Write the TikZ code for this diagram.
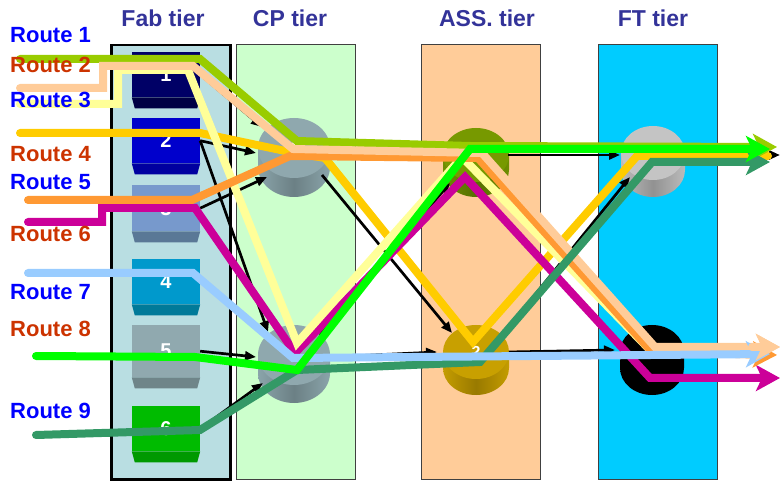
\documentclass[tikz,border=0pt]{standalone}
\usepackage{fontspec}
\setmainfont{Liberation Sans}
\usetikzlibrary{arrows.meta,calc}

% tier and label colours
\definecolor{titleblue}{HTML}{333399}
\definecolor{lblblue}{HTML}{0000FF}
\definecolor{lblred}{HTML}{CC3300}
\definecolor{fabfill}{HTML}{B9DEE2}
\definecolor{cpfill}{HTML}{CCFFCC}
\definecolor{assfill}{HTML}{FFCC99}
\definecolor{ftfill}{HTML}{00CCFF}
% route colours
\definecolor{rA}{HTML}{99CC00}
\definecolor{rB}{HTML}{FFCC99}
\definecolor{rC}{HTML}{FFFF99}
\definecolor{rD}{HTML}{FFCC00}
\definecolor{rE}{HTML}{FF9933}
\definecolor{rF}{HTML}{CC0099}
\definecolor{rG}{HTML}{99CCFF}
\definecolor{rH}{HTML}{00FF00}
\definecolor{rI}{HTML}{339966}
% fab machine colours (face / base)
\definecolor{mfA}{HTML}{000066}\definecolor{mbA}{HTML}{000044}
\definecolor{mfB}{HTML}{0000CC}\definecolor{mbB}{HTML}{0000A0}
\definecolor{mfC}{HTML}{7799CC}\definecolor{mbC}{HTML}{5A7896}
\definecolor{mfD}{HTML}{0099CC}\definecolor{mbD}{HTML}{007A99}
\definecolor{mfE}{HTML}{90A9AF}\definecolor{mbE}{HTML}{6F8589}
\definecolor{mfF}{HTML}{00BB00}\definecolor{mbF}{HTML}{009900}
% cylinder colours
\definecolor{cpcyl}{HTML}{8FA8AE}
\definecolor{cpside}{HTML}{8AA4AA}
\definecolor{asscylA}{HTML}{779900}
\definecolor{asssideA}{HTML}{6E8E00}
\definecolor{asscylB}{HTML}{C8A000}
\definecolor{asssideB}{HTML}{C49C00}
\definecolor{ftcylA}{HTML}{C4C4C4}
\definecolor{ftsideA}{HTML}{BBBBBB}

\tikzset{
  tierbox/.style={draw=black!75, line width=0.8pt, inner sep=0pt,
    minimum width=119pt, minimum height=435pt, anchor=north west},
  tiertitle/.style={font=\bfseries\fontsize{23}{23}\selectfont, text=titleblue,
    anchor=base, inner sep=0pt},
  lbl/.style={font=\bfseries\fontsize{22}{22}\selectfont, anchor=base west, inner sep=0pt},
  fabm/.style={inner sep=0pt, minimum width=68pt, anchor=north, text=white,
    font=\bfseries\fontsize{20}{20}\selectfont},
  cyllbl/.style={inner sep=0pt, text=white, font=\bfseries\fontsize{16}{16}\selectfont},
  route/.style={line width=8pt, line join=miter, line cap=round},
  tipR/.style={-{Stealth[length=24pt,width=26pt,inset=6pt]}},
  flow/.style={line width=2.7pt, -{Triangle[length=11pt,width=9pt]}},
}

% fab machine: name, top y, face height, face colour, base colour, number
\newcommand\fabunit[6]{%
  \node[fabm, fill=#4, minimum height=#3pt] (#1) at (166,#2) {#6};
  \fill[#5] (#1.south west) -- (#1.south east) -- ++(-3,11)
            -- ($(#1.south west)+(3,11)$) -- cycle;
}

% tier cylinder: name, cx, cy, rx, ry, height, top colour, side colour, number
\newcommand\tiercyl[9]{%
  \shade[left color=#8, right color=#8, middle color=#8!78!black]
    ({#2-#4},#3) -- ({#2-#4},{#3+#6})
    arc[start angle=180, end angle=360, x radius=#4pt, y radius=#5pt]
    -- ({#2+#4},#3) -- cycle;
  \fill[#7] (#2,#3) ellipse[x radius=#4pt, y radius=#5pt];
  \node[cyllbl] (#1) at (#2,#3) {#9};
}

\begin{document}
\begin{tikzpicture}[x=1pt, y=-1pt]
\useasboundingbox (0,0) rectangle (780,481);

% tiers
\node[tierbox, fill=fabfill, draw=black, line width=2.5pt, minimum height=434pt] (fab) at (110,44) {};
\node[tierbox, fill=cpfill] (cp) at (236,44) {};
\node[tierbox, fill=assfill] (ass) at (421,44) {};
\node[tierbox, fill=ftfill] (ft) at (598,44) {};

\node[tiertitle] (tfab) at (163,27) {Fab tier};
\node[tiertitle] (tcp) at (290,27) {CP tier};
\node[tiertitle] (tass) at (487,27) {ASS. tier};
\node[tiertitle] (tft) at (653,27) {FT tier};

% fab machines
\fabunit{m1}{52}{45}{mfA}{mbA}{1}
\fabunit{m2}{118}{45}{mfB}{mbB}{2}
\fabunit{m3}{185}{46}{mfC}{mbC}{3}
\fabunit{m4}{259}{45}{mfD}{mbD}{4}
\fabunit{m5}{325}{52}{mfE}{mbE}{5}
\fabunit{m6}{406}{45}{mfF}{mbF}{6}

% cylinders of the later tiers
\tiercyl{cp1}{294}{148}{36}{30}{19}{cpcyl}{cpside}{1}
\tiercyl{cp2}{294}{355}{36}{30}{18}{cpcyl}{cpside}{2}
\tiercyl{ass1}{476}{155}{33}{27}{15}{asscylA}{asssideA}{1}
\tiercyl{ass2}{476}{352}{33}{27}{16}{asscylB}{asssideB}{2}
\tiercyl{ft1}{653}{153}{32}{27}{17}{ftcylA}{ftsideA}{1}
\tiercyl{ft2}{652}{352}{32}{27}{16}{black}{black}{2}

% material flow between machines
\coordinate (out1) at (780,155);
\draw[flow] (m1.east) -- ($(cp1)+(-32,-21)$);
\draw[flow] (m2.east) -- ($(cp1)+(-38,5)$);
\draw[flow] (m2.east) -- ($(cp2)+(-26,-23)$);
\draw[flow] (m3.east) -- ($(cp1)+(-27,29)$);
\draw[flow] (m5.east) -- ($(cp2)+(-38,2)$);
\draw[flow] (m6.east) -- ($(cp2)+(-31,28)$);
\draw[flow] ($(cp1)+(28,27)$) -- ($(ass2)+(-24,-19)$);
\draw[flow] ($(cp2)+(36,2)$) -- ($(ass2)+(-39,0)$);
\draw[flow] ($(cp2)+(26,-20)$) -- ($(ass1)+(-26,28)$);
\draw[flow] ($(ass1)+(32,0)$) -- ($(ft1)+(-33,2)$);
\draw[flow] ($(ass2)+(24,-14)$) -- ($(ft1)+(-23,24)$);
\draw[flow] ($(ass2)+(33,0)$) -- ($(ft2)+(-37,-2)$);
\draw[flow] ($(ft1)+(33,2)$) -- (out1);

% routes
\draw[route, rD] (20,133) -- (200,133) -- (290,152) -- (325,158) -- (473,342) -- (637,156) -- (768,156);
\draw[route, rF, tipR] (28,222) -- (102,222) -- (102,208) -- (195,208) -- (295,353) -- (465,177) -- (650,378) -- (780,378);
\draw[route, rC] (20,104) -- (118,104) -- (118,70) -- (188,70) -- (297,343) -- (462,157) -- (650,350) -- (760,350);
\draw[route, rA, tipR] (20,59) -- (200,59) -- (297,141) -- (470,146) -- (777,147);
\draw[route, rE, tipR] (28,200) -- (192,200) -- (290,156) -- (478,158) -- (652,352) -- (777,355);
\draw[route, rB, tipR] (20,88) -- (103,88) -- (103,66) -- (193,66) -- (293,149) -- (482,153) -- (655,347) -- (780,347);
\draw[route, rI, tipR] (36,435) -- (200,430) -- (297,370) -- (480,362) -- (652,162) -- (770,162);
\draw[route, rG, tipR] (28,273) -- (193,273) -- (293,358) -- (770,354);
\draw[route, rB, tipR] (752,347) -- (780,347);
\draw[route, rH, tipR] (36,356) -- (195,357) -- (297,370) -- (470,149) -- (770,149);

% route labels
\node[lbl, text=lblblue] (l1) at (10,43) {Route 1};
\node[lbl, text=lblred]  (l2) at (10,73) {Route 2};
\node[lbl, text=lblblue] (l3) at (10,108) {Route 3};
\node[lbl, text=lblred]  (l4) at (10,162) {Route 4};
\node[lbl, text=lblblue] (l5) at (10,190) {Route 5};
\node[lbl, text=lblred]  (l6) at (10,242) {Route 6};
\node[lbl, text=lblblue] (l7) at (10,300) {Route 7};
\node[lbl, text=lblred]  (l8) at (10,337) {Route 8};
\node[lbl, text=lblblue] (l9) at (10,418) {Route 9};
\end{tikzpicture}
\end{document}
